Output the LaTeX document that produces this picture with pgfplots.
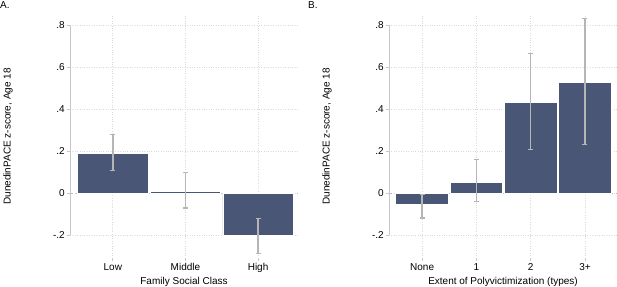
\documentclass[border=0pt]{standalone}
\usepackage{fontspec}
\setmainfont{Liberation Sans}
\usepackage{pgfplots}
\pgfplotsset{compat=1.18}
\definecolor{barc}{HTML}{4A5676}
\definecolor{errc}{HTML}{B5B5B5}
\definecolor{gridc}{HTML}{DADADA}
\definecolor{axc}{HTML}{C8C8C8}
\pgfplotsset{
 panel/.style={
  scale only axis, width=228bp, height=243bp,
  ymin=-0.31, ymax=0.85,
  ytick={-0.2,0,0.2,0.4,0.6,0.8},
  yticklabels={-.2,0,.2,.4,.6,.8},
  axis line style={draw=none},
  tick style={axc, line width=0.8bp},
  major tick length=3bp,
  tick align=outside,
  xtick pos=bottom, ytick pos=left,
  grid=major,
  major grid style={gridc, dotted, line width=0.7bp},
  font=\fontsize{10bp}{12bp}\selectfont,
  yticklabel style={inner sep=0pt, xshift=-2bp},
  xticklabel style={inner sep=0pt, yshift=-2bp},
  every axis y label/.style={at={(axis description cs:-0.272,0.5)}, rotate=90, anchor=center},
  every axis x label/.style={at={(axis description cs:0.5,0)}, yshift=-23.7bp, anchor=center},
  ylabel={DunedinPACE z-score, Age 18},
 },
 bars/.style={ybar, bar width=0.97, fill=barc, draw=white, line width=0.6bp,
  error bars/.cd, y dir=both, y explicit,
  error bar style={errc, line width=1.6bp},
  error mark options={rotate=90, errc, mark size=2.5bp, line width=1.2bp}},
}
\begin{document}
\begin{tikzpicture}
\useasboundingbox (0,0) rectangle (617bp,287bp);
\node[anchor=base west, inner sep=0pt, font=\fontsize{10bp}{12bp}\selectfont] at (0bp,278bp) {A.};
\node[anchor=base west, inner sep=0pt, font=\fontsize{10bp}{12bp}\selectfont] at (308bp,278bp) {B.};
\begin{axis}[panel, at={(70bp,29bp)}, anchor=south west,
  xmin=0.41, xmax=3.55, xtick={1,2,3}, xticklabels={Low,Middle,High},
  xlabel={Family Social Class}]
\draw[gridc!85!black, dashed, line width=0.7bp] (axis cs:0.41,0) -- (axis cs:3.55,0);
\addplot[bars] coordinates {
 (1,0.1875) += (0,0.0915) -= (0,0.0785)
 (2,0.008) += (0,0.091) -= (0,0.079)
 (3,-0.202) += (0,0.080) -= (0,0.088)
};
\draw[axc, line width=0.8bp] (axis cs:0.41,-0.2) -- (axis cs:0.41,0.8);
\draw[axc, line width=0.8bp] (axis cs:1,-0.31) -- (axis cs:3,-0.31);
\end{axis}
\begin{axis}[panel, at={(389bp,29bp)}, anchor=south west,
  xmin=0.39, xmax=4.59, xtick={1,2,3,4}, xticklabels={None,1,2,3+},
  xlabel={Extent of Polyvictimization (types)}]
\draw[gridc!85!black, dashed, line width=0.7bp] (axis cs:0.39,0) -- (axis cs:4.59,0);
\addplot[bars] coordinates {
 (1,-0.056) += (0,0.051) -= (0,0.063)
 (2,0.052) += (0,0.110) -= (0,0.093)
 (3,0.431) += (0,0.237) -= (0,0.223)
 (4,0.527) += (0,0.308) -= (0,0.296)
};
\draw[axc, line width=0.8bp] (axis cs:0.39,-0.2) -- (axis cs:0.39,0.8);
\draw[axc, line width=0.8bp] (axis cs:1,-0.31) -- (axis cs:4,-0.31);
\end{axis}
\end{tikzpicture}
\end{document}
